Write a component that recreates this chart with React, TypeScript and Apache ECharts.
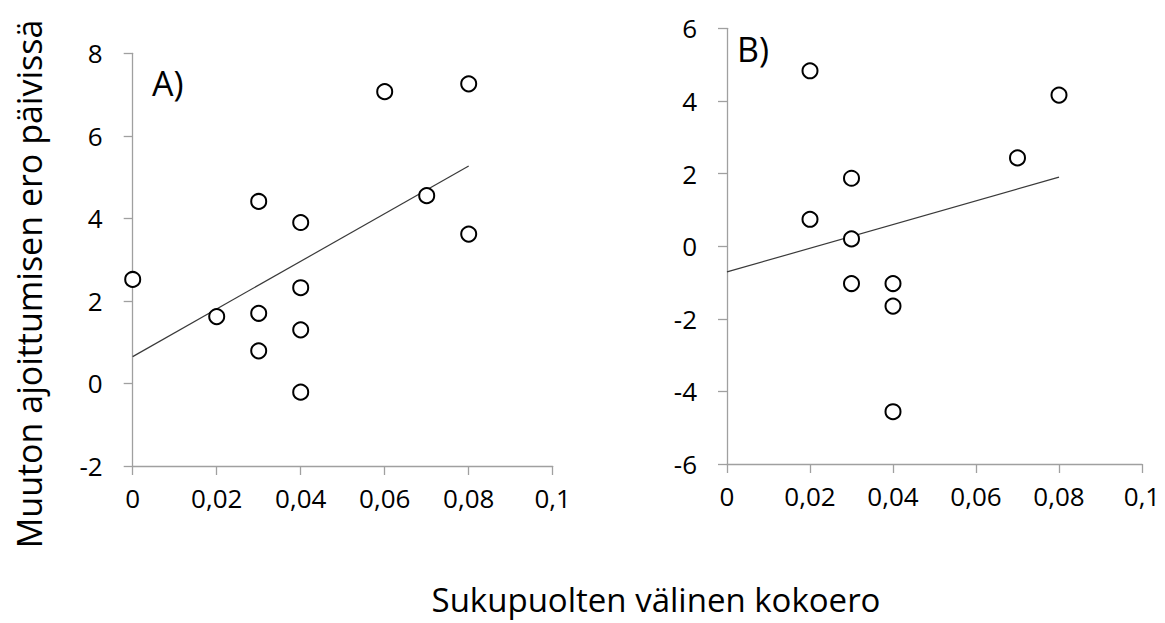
import React, { useEffect, useRef } from 'react';
import * as echarts from 'echarts';

// Tick values and labels
const xTickValues = [0, 0.02, 0.04, 0.06, 0.08, 0.1];
const xTickLabels = ['0', '0,02', '0,04', '0,06', '0,08', '0,1'];
const aYTickValues = [-2, 0, 2, 4, 6, 8];
const aYTickLabels = ['-2', '0', '2', '4', '6', '8'];
const bYTickValues = [-6, -4, -2, 0, 2, 4, 6];
const bYTickLabels = ['-6', '-4', '-2', '0', '2', '4', '6'];

// Panel A data
const aX = [0, 0.02, 0.03, 0.03, 0.03, 0.04, 0.04, 0.04, 0.04, 0.06, 0.07, 0.08, 0.08];
const aY = [2.52, 1.62, 4.41, 1.7, 0.79, 3.9, 2.32, 1.3, -0.21, 7.07, 4.55, 7.26, 3.62];
const aTrendX = [0, 0.08];
const aTrendY = [0.65, 5.27];

// Panel B data
const bX = [0.02, 0.02, 0.03, 0.03, 0.03, 0.04, 0.04, 0.04, 0.07, 0.08];
const bY = [4.83, 0.74, 1.87, 0.2, -1.03, -1.03, -1.65, -4.56, 2.43, 4.16];
const bTrendX = [0, 0.08];
const bTrendY = [-0.71, 1.9];

const panelLabels = ['A)', 'B)'];
const yTitle = 'Muuton ajoittumisen ero päivissä';
const xTitle = 'Sukupuolten välinen kokoero';

const FONT = 'Open Sans';
const AXIS_COLOR = '#a0a0a0';

function lookup(values: number[], labels: string[]) {
  return (v: number) => {
    const i = values.findIndex((t) => Math.abs(t - v) < 1e-9);
    return i >= 0 ? labels[i] : '';
  };
}

function xAxisCfg(gridIndex: number) {
  return {
    type: 'value',
    gridIndex,
    min: 0,
    max: 0.1,
    interval: 0.02,
    splitLine: { show: false },
    axisLine: { show: true, onZero: false, lineStyle: { color: AXIS_COLOR, width: 1.3 } },
    axisTick: { show: true, inside: false, length: 9, lineStyle: { color: AXIS_COLOR, width: 1.3 } },
    axisLabel: {
      margin: 19,
      fontSize: 26,
      fontFamily: FONT,
      color: '#000',
      formatter: lookup(xTickValues, xTickLabels),
    },
  };
}

function yAxisCfg(gridIndex: number, min: number, max: number, vals: number[], labels: string[]) {
  return {
    type: 'value',
    gridIndex,
    min,
    max,
    interval: 2,
    splitLine: { show: false },
    axisLine: { show: true, onZero: false, lineStyle: { color: AXIS_COLOR, width: 1.3 } },
    axisTick: { show: true, inside: false, length: 9, lineStyle: { color: AXIS_COLOR, width: 1.3 } },
    axisLabel: {
      margin: 30,
      fontSize: 26,
      fontFamily: FONT,
      color: '#000',
      formatter: lookup(vals, labels),
    },
  };
}

function pts(xs: number[], ys: number[]) {
  return xs.map((x, i) => [x, ys[i]]);
}

const scatterStyle = {
  type: 'scatter',
  symbol: 'circle',
  symbolSize: 15,
  itemStyle: { color: '#ffffff', borderColor: '#000000', borderWidth: 2, opacity: 1 },
  z: 3,
};

const trendStyle = {
  type: 'line',
  symbol: 'none',
  lineStyle: { color: '#3a3a3a', width: 1.2 },
  z: 2,
};

export default function App() {
  const ref = useRef<HTMLDivElement>(null);

  useEffect(() => {
    if (!ref.current) return;
    const chart = echarts.init(ref.current, null, { renderer: 'svg' });
    chart.setOption({
      animation: false,
      backgroundColor: '#ffffff',
      grid: [
        { left: 132.7, top: 53.3, width: 420, height: 412.7 },
        { left: 727, top: 28.3, width: 415, height: 435.7 },
      ],
      xAxis: [xAxisCfg(0), xAxisCfg(1)],
      yAxis: [
        yAxisCfg(0, -2, 8, aYTickValues, aYTickLabels),
        yAxisCfg(1, -6, 6, bYTickValues, bYTickLabels),
      ],
      series: [
        { ...trendStyle, xAxisIndex: 0, yAxisIndex: 0, data: pts(aTrendX, aTrendY) },
        { ...scatterStyle, xAxisIndex: 0, yAxisIndex: 0, data: pts(aX, aY) },
        { ...trendStyle, xAxisIndex: 1, yAxisIndex: 1, data: pts(bTrendX, bTrendY) },
        { ...scatterStyle, xAxisIndex: 1, yAxisIndex: 1, data: pts(bX, bY) },
      ],
      graphic: [
        {
          type: 'text',
          x: 152,
          y: 83,
          style: { text: panelLabels[0], fontSize: 34, fontFamily: FONT, fill: '#000', align: 'left', verticalAlign: 'middle' },
        },
        {
          type: 'text',
          x: 737,
          y: 49,
          style: { text: panelLabels[1], fontSize: 34, fontFamily: FONT, fill: '#000', align: 'left', verticalAlign: 'middle' },
        },
        {
          type: 'text',
          x: 29,
          y: 284,
          rotation: Math.PI / 2,
          style: { text: yTitle, fontSize: 34, fontFamily: FONT, fill: '#000', align: 'center', verticalAlign: 'middle' },
        },
        {
          type: 'text',
          x: 656,
          y: 599,
          style: { text: xTitle, fontSize: 33, lineHeight: 33, fontFamily: FONT, fill: '#000', align: 'center', verticalAlign: 'middle' },
        },
      ],
    });
    return () => chart.dispose();
  }, []);

  return <div ref={ref} style={{ position: 'fixed', left: 0, top: 0, width: 1165, height: 623 }} />;
}
